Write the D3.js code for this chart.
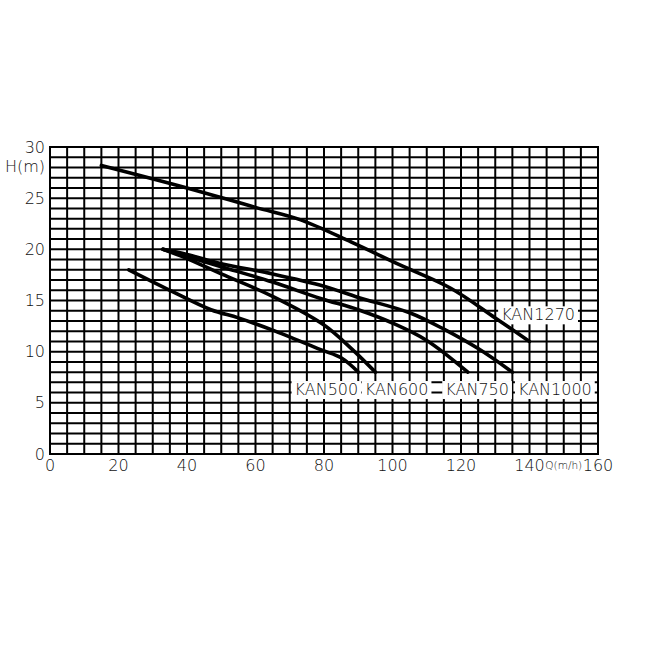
<!DOCTYPE html>
<html>
<head>
<meta charset="utf-8">
<script src="https://cdn.jsdelivr.net/npm/d3@7/dist/d3.min.js"></script>
<style>
    html, body { margin: 0; padding: 0; background: #fff; }
    text { font-family: "DejaVu Sans", sans-serif; font-weight: 200; fill: #111; }
</style>
</head>
<body>
<div id="chart"></div>
<script>
const WIDTH  = 656;
const HEIGHT = 656;

// Axis ticks
const xTicks = [0, 20, 40, 60, 80, 100, 120, 140, 160];
const yTicks = [0, 5, 10, 15, 20, 25, 30];

// Pump curves, Q (m3/h) against H (m)
const seriesNames = ["KAN500", "KAN600", "KAN750", "KAN1000", "KAN1270"];

const kan500Q  = [23, 35, 47, 55, 65, 79, 85, 90];
const kan500H  = [18, 16, 14.1, 13.3, 12.1, 10.2, 9.4, 8];

const kan600Q  = [33, 40, 50, 65, 80, 88, 95];
const kan600H  = [20, 19.1, 17.6, 15.4, 12.6, 10.3, 8];

const kan750Q  = [33, 40, 50, 65, 79, 90, 100, 110, 122];
const kan750H  = [20, 19.3, 18.3, 16.8, 15.2, 14.1, 12.8, 11.1, 8];

const kan1000Q = [33, 40, 50, 65, 80, 90, 105, 115, 125, 135];
const kan1000H = [20, 19.5, 18.6, 17.6, 16.4, 15.3, 13.8, 12.2, 10.3, 8];

const kan1270Q = [15, 40, 60, 73, 88, 102, 117, 130, 140];
const kan1270H = [28.2, 26, 24.1, 22.9, 20.7, 18.5, 16.2, 13.3, 11];

// Where each curve name is written (in chart units)
const labelQ = [80.7, 101.2, 124.7, 147.4, 142.5];
const labelH = [6.3, 6.3, 6.3, 6.3, 13.6];

const series = [
    [kan500Q, kan500H],
    [kan600Q, kan600H],
    [kan750Q, kan750H],
    [kan1000Q, kan1000H],
    [kan1270Q, kan1270H]
].map(([q, h]) => q.map((v, i) => [v, h[i]]));

const svg = d3.select("#chart")
    .append("svg")
    .attr("width", WIDTH)
    .attr("height", HEIGHT);

const x = d3.scaleLinear().domain([0, 160]).range([50, 598]);
const y = d3.scaleLinear().domain([0, 30]).range([454, 147]);

// Grid: a vertical line every 5 m3/h, a horizontal line every metre
const grid = svg.append("g")
    .attr("stroke", "#000")
    .attr("stroke-width", 2);

grid.selectAll("line.v")
    .data(d3.range(0, 161, 5))
    .join("line")
    .attr("class", "v")
    .attr("x1", (d) => x(d))
    .attr("x2", (d) => x(d))
    .attr("y1", y(0) + 1)
    .attr("y2", y(30) - 1);

grid.selectAll("line.h")
    .data(d3.range(0, 31, 1))
    .join("line")
    .attr("class", "h")
    .attr("x1", x(0) - 1)
    .attr("x2", x(160) + 1)
    .attr("y1", (d) => y(d))
    .attr("y2", (d) => y(d));

// Curve names on white boxes (under the curves)
const labels = svg.append("g")
    .selectAll("g")
    .data(seriesNames)
    .join("g");

labels.append("text")
    .attr("x", (d, i) => x(labelQ[i]))
    .attr("y", (d, i) => y(labelH[i]))
    .attr("text-anchor", "middle")
    .attr("dominant-baseline", "central")
    .attr("font-size", 16)
    .text((d) => d);

labels.each(function () {
    let g    = d3.select(this);
    let bbox = g.select("text").node().getBBox();

    g.insert("rect", "text")
        .attr("x", bbox.x - 3)
        .attr("y", bbox.y + 1)
        .attr("width", bbox.width + 6)
        .attr("height", bbox.height - 1)
        .attr("fill", "#fff");
});

// Curves
const line = d3.line()
    .x((d) => x(d[0]))
    .y((d) => y(d[1]))
    .curve(d3.curveCatmullRom.alpha(0.5));

svg.append("g")
    .selectAll("path")
    .data(series)
    .join("path")
    .attr("d", line)
    .attr("fill", "none")
    .attr("stroke", "#000")
    .attr("stroke-width", 3.6)
    .attr("stroke-linecap", "round")
    .attr("stroke-linejoin", "round");

// Y axis labels
svg.append("g")
    .selectAll("text")
    .data(yTicks)
    .join("text")
    .attr("x", 45)
    .attr("y", (d) => y(d))
    .attr("text-anchor", "end")
    .attr("dominant-baseline", "central")
    .attr("font-size", 16)
    .text((d) => d);

svg.append("text")
    .attr("x", 45)
    .attr("y", y(28.1))
    .attr("text-anchor", "end")
    .attr("dominant-baseline", "central")
    .attr("font-size", 16)
    .text("H(m)");

// X axis labels
svg.append("g")
    .selectAll("text")
    .data(xTicks)
    .join("text")
    .attr("x", (d) => x(d))
    .attr("y", y(0) + 11)
    .attr("text-anchor", "middle")
    .attr("dominant-baseline", "central")
    .attr("font-size", 16)
    .text((d) => d);

svg.append("text")
    .attr("x", x(150))
    .attr("y", y(0) + 11)
    .attr("text-anchor", "middle")
    .attr("dominant-baseline", "central")
    .attr("font-size", 10.5)
    .text("Q(m/h)");
</script>
</body>
</html>
